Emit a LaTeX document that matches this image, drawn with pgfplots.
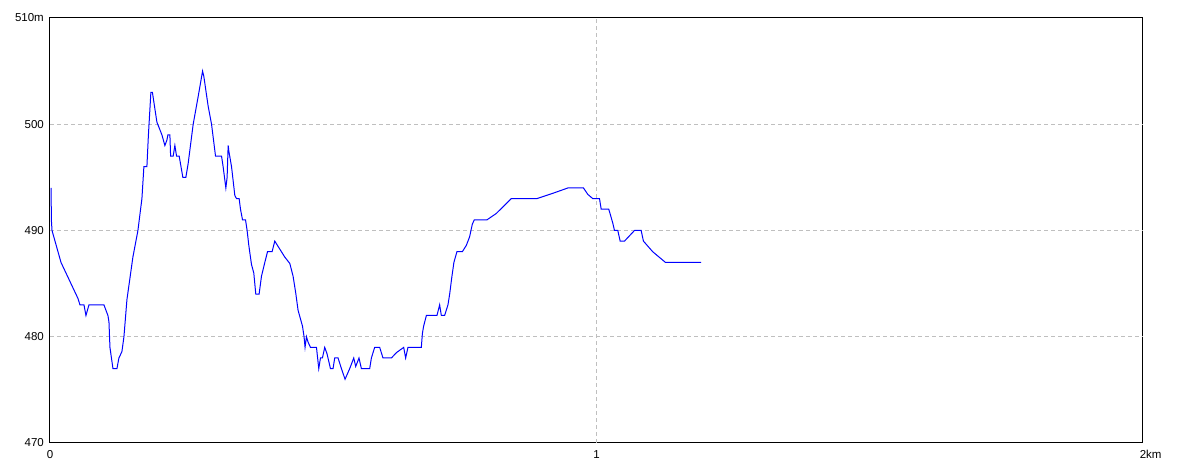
\documentclass[border=0pt]{standalone}
\usepackage{fontspec}
\setmainfont{Liberation Sans}
\usepackage{pgfplots}
\pgfplotsset{compat=1.18}
\begin{document}
\begin{tikzpicture}[x=1pt,y=1pt]
\useasboundingbox (-50,-30) rectangle (1134,443);
\begin{axis}[
  at={(0,0)}, anchor=south west,
  scale only axis, width=1093pt, height=425pt,
  xmin=0, xmax=2, ymin=470, ymax=510,
  xtick={0,1,2}, xticklabels={0,1,2\rlap{km}},
  ytick={470,480,490,500,510}, yticklabels={470,480,490,500,510m},
  major tick length=0pt,
  tick label style={font=\fontsize{11.5}{12}\selectfont, inner sep=0pt},
  yticklabel style={anchor=east, xshift=-6pt},
  xticklabel style={anchor=north, yshift=-7pt},
  /pgf/number format/assume math mode=true,
  extra x ticks={1}, extra y ticks={480,490,500},
  extra tick style={grid=major, xticklabels={}, yticklabels={}},
  grid style={draw=black!25, line width=0.8pt, dash pattern=on 4pt off 3pt},
  axis line style={line width=1pt, black},
  clip=true,
]
\addplot[blue, line width=1pt, sharp plot, mark=none] coordinates {
(0.002,494) (0.0025,491) (0.0037,490) (0.0201,487) (0.0512,483.6) (0.0548,483) (0.0622,483) (0.0658,482) (0.0713,483) (0.0987,483) (0.1060,482) (0.1079,481.4) (0.1097,479) (0.1152,477) (0.1225,477) (0.1261,478) (0.1316,478.6) (0.1353,480) (0.1408,483.5) (0.1517,487.5) (0.1609,490) (0.1682,493) (0.1718,496) (0.1773,496) (0.1801,499) (0.1846,503) (0.1874,503) (0.1956,500.2) (0.2048,499) (0.2102,498) (0.2139,498.5) (0.2157,499) (0.2194,499) (0.2207,497) (0.2254,497) (0.2285,498) (0.2316,497) (0.2364,497) (0.2431,495) (0.2486,495) (0.2528,496.3) (0.2620,500) (0.2711,502.6) (0.2792,505) (0.2815,504.5) (0.2894,501.7) (0.2956,500) (0.3029,497) (0.3139,497) (0.3168,496) (0.3218,494) (0.3241,495) (0.3260,498) (0.3272,497.5) (0.3322,496) (0.3382,493.3) (0.3413,493) (0.3461,493) (0.3486,492) (0.3523,491) (0.3578,491) (0.3607,490) (0.3638,488.6) (0.3687,486.8) (0.3729,486) (0.3766,484) (0.3826,484) (0.3870,485.7) (0.3931,487) (0.3980,488) (0.4064,488) (0.4113,489) (0.4174,488.5) (0.4296,487.5) (0.4388,486.9) (0.4448,485.7) (0.4497,484.1) (0.4539,482.5) (0.4620,481) (0.4649,480) (0.4667,479) (0.4693,480) (0.4722,479.5) (0.4766,479) (0.4876,479) (0.4918,477) (0.4949,478) (0.4985,478) (0.5027,479) (0.5069,478.4) (0.5132,477) (0.5179,477) (0.5210,478) (0.5271,478) (0.5333,477) (0.5399,476) (0.5484,477) (0.5558,478) (0.5594,477.2) (0.5654,478) (0.5698,477) (0.5850,477) (0.5881,478) (0.5941,479) (0.6033,479) (0.6093,478) (0.6247,478) (0.6338,478.5) (0.6472,479) (0.6508,478) (0.6550,479) (0.6795,479) (0.6814,480.3) (0.6837,481) (0.6887,482) (0.7081,482) (0.7130,483) (0.7161,482) (0.7221,482) (0.7282,483) (0.7313,484) (0.7355,485.7) (0.7391,487) (0.7446,488) (0.7545,488) (0.7618,488.6) (0.7678,489.4) (0.7728,490.6) (0.7764,491) (0.7995,491) (0.8166,491.6) (0.8441,493) (0.8909,493) (0.9201,493.5) (0.9475,494) (0.9762,494) (0.9841,493.4) (0.9932,493) (1.0055,493) (1.0086,492) (1.0225,492) (1.0298,490.7) (1.0329,490) (1.0390,490) (1.0433,489) (1.0512,489) (1.0695,490) (1.0817,490) (1.0859,489) (1.1029,488) (1.1261,487) (1.1914,487)
};
\end{axis}
\end{tikzpicture}
\end{document}
